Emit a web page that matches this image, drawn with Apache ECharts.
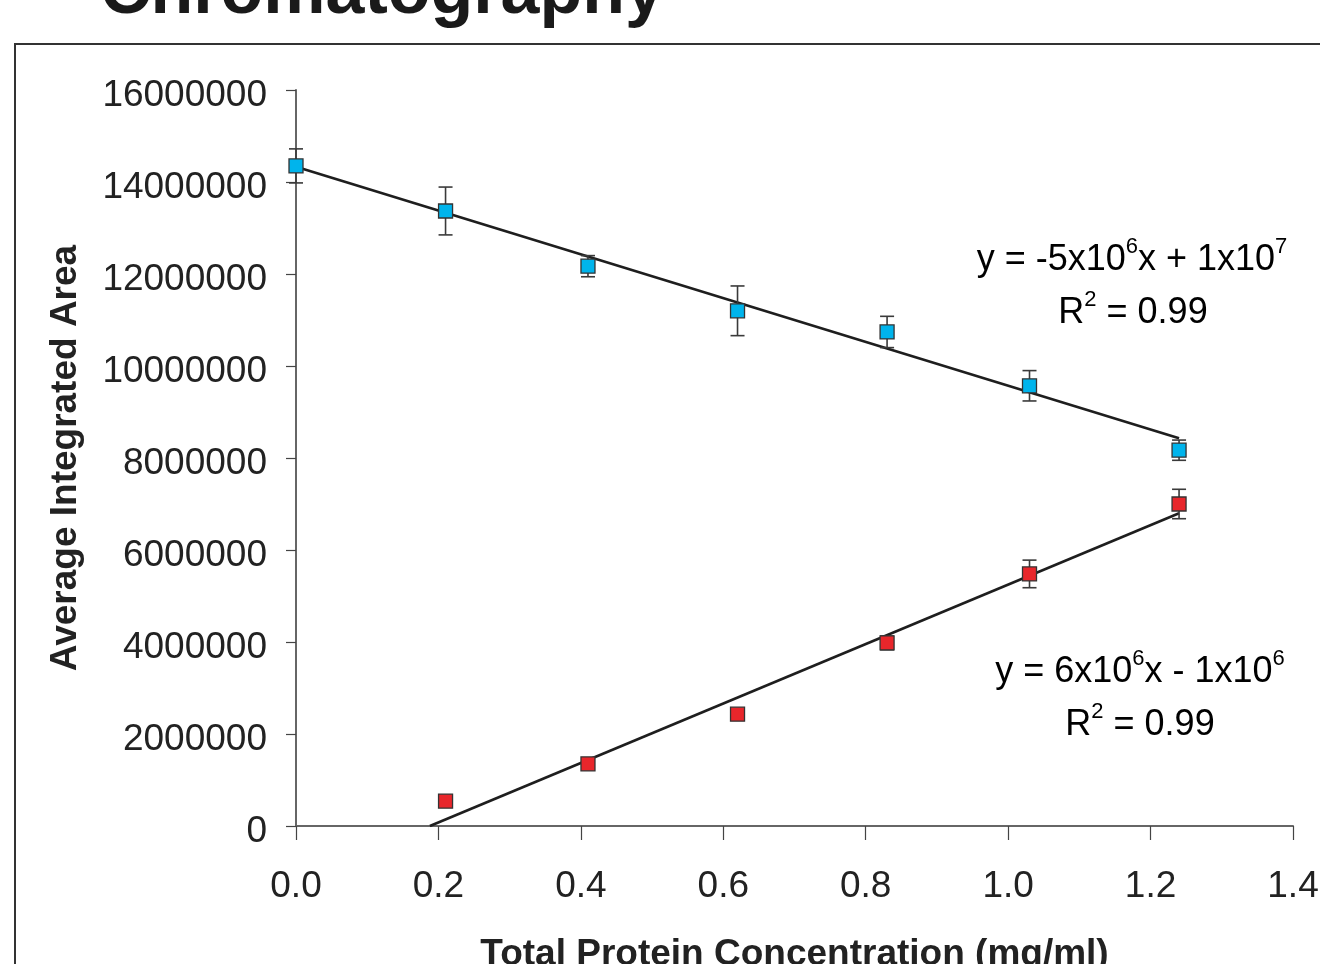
<!DOCTYPE html>
<html>
<head>
<meta charset="utf-8">
<title>Chromatography</title>
<script src="https://cdn.jsdelivr.net/npm/echarts@6/dist/echarts.min.js"></script>
<style>
  html, body { margin: 0; padding: 0; background: #fff; }
  #chart { width: 1320px; height: 964px; }
</style>
</head>
<body>
<div id="chart"></div>
<script>
// protein concentration (mg/ml) for each sample
const blueX = [0.0, 0.21, 0.41, 0.62, 0.83, 1.03, 1.24];
const blueY = [14350000, 13370000, 12170000, 11200000, 10740000, 9570000, 8170000];
const blueErr = [370000, 520000, 230000, 540000, 340000, 330000, 220000];

const redX = [0.21, 0.41, 0.62, 0.83, 1.03, 1.24];
const redY = [540000, 1350000, 2430000, 3980000, 5480000, 7000000];
const redErr = [0, 0, 0, 150000, 300000, 320000];

// linear fit end points
const blueFit = [[0.0, 14330000], [1.24, 8430000]];
const redFit = [[0.188, 0], [1.24, 6800000]];

const xTicks = { min: 0, max: 1.4, step: 0.2 };
const yTicks = { min: 0, max: 16000000, step: 2000000 };

const FONT = '"Liberation Sans", Arial, sans-serif';
const INK = '#222';

const chart = echarts.init(document.getElementById('chart'), null, { renderer: 'canvas' });

function errorBars(xs, ys, errs) {
  return xs.map((x, i) => [x, ys[i] - errs[i], ys[i] + errs[i]]).filter((d, i) => errs[i] > 0);
}

function renderErr(params, api) {
  const lo = api.coord([api.value(0), api.value(1)]);
  const hi = api.coord([api.value(0), api.value(2)]);
  const cap = 7;
  const style = { stroke: '#3a3a3a', lineWidth: 1.6 };
  return {
    type: 'group',
    children: [
      { type: 'line', shape: { x1: lo[0], y1: lo[1], x2: hi[0], y2: hi[1] }, style },
      { type: 'line', shape: { x1: lo[0] - cap, y1: lo[1], x2: lo[0] + cap, y2: lo[1] }, style },
      { type: 'line', shape: { x1: hi[0] - cap, y1: hi[1], x2: hi[0] + cap, y2: hi[1] }, style }
    ]
  };
}

const supRich = {
  n: { fontSize: 36, fontFamily: FONT, color: INK, lineHeight: 44 },
  s: { fontSize: 22, fontFamily: FONT, color: INK, lineHeight: 44, padding: [0, 0, 26, 0] }
};

function eqText(x, y, text) {
  return {
    type: 'text',
    x: x,
    y: y,
    style: {
      text: text,
      rich: supRich,
      align: 'center',
      verticalAlign: 'middle'
    }
  };
}

chart.setOption({
  animation: false,
  backgroundColor: '#fff',
  grid: { left: 296, top: 90, right: 27, bottom: 138, containLabel: false, outerBoundsMode: 'none' },
  xAxis: {
    type: 'value',
    min: xTicks.min,
    max: xTicks.max,
    interval: xTicks.step,
    name: 'Total Protein Concentration (mg/ml)',
    nameLocation: 'middle',
    nameGap: 110,
    nameTextStyle: { fontSize: 37, fontWeight: 'bold', fontFamily: FONT, color: INK },
    axisLine: { lineStyle: { color: '#666', width: 2 } },
    axisTick: { length: 14, lineStyle: { color: '#444', width: 1.2 } },
    axisLabel: {
      margin: 42,
      fontSize: 37,
      fontFamily: FONT,
      color: INK,
      formatter: v => v.toFixed(1)
    },
    splitLine: { show: false }
  },
  yAxis: {
    type: 'value',
    min: yTicks.min,
    max: yTicks.max,
    interval: yTicks.step,
    name: 'Average Integrated Area',
    nameLocation: 'middle',
    nameGap: 212,
    nameTextStyle: { fontSize: 37, fontWeight: 'bold', fontFamily: FONT, color: INK },
    axisLine: { show: true, lineStyle: { color: '#666', width: 2 } },
    axisTick: { show: true, length: 10, lineStyle: { color: '#444', width: 1.2 } },
    axisLabel: {
      margin: 29,
      formatter: v => '{a|' + v + '}',
      rich: {
        a: { fontSize: 37, fontFamily: FONT, color: INK, padding: [12, 0, 0, 0] }
      }
    },
    splitLine: { show: false }
  },
  graphic: [
    {
      type: 'rect',
      shape: { x: 15, y: 44, width: 1400, height: 1000 },
      style: { fill: 'none', stroke: '#333', lineWidth: 2 },
      z: -1
    },
    {
      type: 'text',
      x: 100,
      y: -6,
      style: {
        text: 'Chromatography',
        fontSize: 70,
        fontWeight: 900,
        fontFamily: FONT,
        fill: '#1a1a1a',
        verticalAlign: 'middle'
      }
    },
    eqText(1132, 260, '{n|y = -5x10}{s|6}{n|x + 1x10}{s|7}'),
    eqText(1133, 313, '{n|R}{s|2}{n| = 0.99}'),
    eqText(1140, 672, '{n|y = 6x10}{s|6}{n|x - 1x10}{s|6}'),
    eqText(1140, 725, '{n|R}{s|2}{n| = 0.99}')
  ],
  series: [
    {
      type: 'line',
      data: blueFit,
      symbol: 'none',
      lineStyle: { color: '#1e1e1e', width: 2.6 },
      z: 2
    },
    {
      type: 'line',
      data: redFit,
      symbol: 'none',
      lineStyle: { color: '#1e1e1e', width: 2.6 },
      z: 2
    },
    {
      type: 'custom',
      data: errorBars(blueX, blueY, blueErr),
      renderItem: renderErr,
      z: 3
    },
    {
      type: 'custom',
      data: errorBars(redX, redY, redErr),
      renderItem: renderErr,
      z: 3
    },
    {
      type: 'scatter',
      data: blueX.map((x, i) => [x, blueY[i]]),
      symbol: 'rect',
      symbolSize: 14,
      itemStyle: { color: '#00B4EC', borderColor: '#333', borderWidth: 1.3, opacity: 1 },
      z: 4
    },
    {
      type: 'scatter',
      data: redX.map((x, i) => [x, redY[i]]),
      symbol: 'rect',
      symbolSize: 14,
      itemStyle: { color: '#E8262B', borderColor: '#333', borderWidth: 1.3, opacity: 1 },
      z: 4
    }
  ]
});
</script>
</body>
</html>
